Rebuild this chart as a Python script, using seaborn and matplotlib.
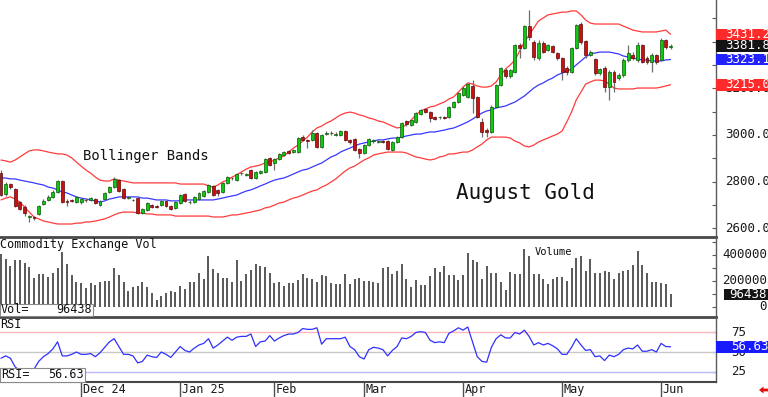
import numpy as np
import pandas as pd
import matplotlib
matplotlib.use("Agg")
import matplotlib.pyplot as plt
from matplotlib.patches import Rectangle, Polygon
import seaborn as sns

# ---- August gold, daily bars ----
holidays = ["2024-11-28", "2024-12-25", "2025-01-01", "2025-01-09",
            "2025-01-20", "2025-02-17", "2025-04-18", "2025-05-26"]
dates = pd.bdate_range("2024-11-06", "2025-06-04")
dates = dates[~dates.isin(pd.to_datetime(holidays))]

month_labels = ["Dec 24", "Jan 25", "Feb", "Mar", "Apr", "May", "Jun"]

opens = [2837, 2747, 2790, 2769, 2713, 2692, 2649, 2649, 2662, 2705,
         2722, 2735, 2756, 2803, 2718, 2722, 2713, 2713, 2722, 2722,
         2726, 2700, 2726, 2756, 2777, 2807, 2769, 2730, 2722, 2730,
         2666, 2679, 2700, 2696, 2700, 2718, 2696, 2688, 2709, 2747,
         2713, 2713, 2726, 2739, 2756, 2782, 2765, 2756, 2795, 2816,
         2807, 2836, 2829, 2850, 2816, 2837, 2842, 2902, 2880, 2897,
         2914, 2932, 2927, 2927, 2991, 2979, 2979, 3009, 2949, 3004,
         3009, 3000, 3000, 3017, 2979, 2983, 2940, 2923, 2957, 2974,
         2970, 2974, 2974, 2936, 2970, 2991, 3060, 3043, 3056, 3090,
         3111, 3098, 3077, 3077, 3077, 3077, 3120, 3141, 3171, 3163,
         3210, 3163, 3056, 3021, 3013, 3120, 3214, 3278, 3252, 3270,
         3385, 3372, 3466, 3398, 3330, 3394, 3364, 3381, 3351, 3330,
         3287, 3270, 3372, 3475, 3402, 3342, 3325, 3265, 3287, 3205,
         3270, 3244, 3257, 3321, 3342, 3321, 3385, 3330, 3312, 3342,
         3321, 3407, 3377]
highs = [2850, 2799, 2795, 2773, 2718, 2700, 2658, 2653, 2700, 2726,
         2743, 2765, 2807, 2807, 2726, 2726, 2739, 2730, 2730, 2735,
         2730, 2722, 2756, 2782, 2820, 2812, 2773, 2739, 2726, 2735,
         2688, 2713, 2705, 2700, 2722, 2722, 2700, 2718, 2747, 2752,
         2722, 2739, 2756, 2765, 2790, 2786, 2769, 2799, 2824, 2820,
         2837, 2842, 2837, 2854, 2846, 2850, 2902, 2906, 2902, 2923,
         2932, 2936, 2940, 2991, 3000, 2983, 3021, 3013, 3004, 3017,
         3017, 3013, 3021, 3021, 2983, 2987, 2944, 2961, 2987, 2983,
         2979, 2979, 2979, 2974, 2996, 3056, 3064, 3068, 3098, 3111,
         3116, 3103, 3081, 3081, 3081, 3124, 3146, 3184, 3210, 3223,
         3235, 3167, 3073, 3030, 3128, 3218, 3291, 3287, 3282, 3389,
         3394, 3471, 3535, 3407, 3407, 3402, 3389, 3385, 3355, 3334,
         3295, 3377, 3475, 3484, 3407, 3364, 3330, 3287, 3295, 3278,
         3278, 3265, 3330, 3385, 3355, 3398, 3389, 3338, 3351, 3347,
         3415, 3411, 3389]
lows = [2739, 2739, 2769, 2692, 2679, 2653, 2628, 2636, 2658, 2700,
        2718, 2730, 2752, 2709, 2696, 2713, 2709, 2705, 2713, 2718,
        2705, 2696, 2722, 2752, 2773, 2756, 2726, 2726, 2718, 2662,
        2662, 2675, 2688, 2688, 2696, 2692, 2679, 2683, 2705, 2713,
        2705, 2709, 2722, 2735, 2752, 2739, 2739, 2752, 2790, 2807,
        2803, 2829, 2824, 2812, 2812, 2833, 2837, 2867, 2850, 2893,
        2910, 2919, 2923, 2923, 2974, 2944, 2974, 2944, 2944, 3000,
        3000, 2996, 2996, 2974, 2961, 2932, 2902, 2919, 2953, 2966,
        2966, 2966, 2936, 2932, 2966, 2987, 3038, 3038, 3051, 3086,
        3094, 3056, 3064, 3068, 3068, 3073, 3116, 3137, 3167, 3158,
        3094, 3073, 2991, 2991, 3009, 3116, 3210, 3244, 3244, 3265,
        3330, 3368, 3407, 3321, 3321, 3351, 3360, 3351, 3321, 3235,
        3257, 3265, 3368, 3389, 3330, 3338, 3257, 3257, 3184, 3150,
        3184, 3235, 3248, 3312, 3321, 3312, 3308, 3304, 3270, 3304,
        3317, 3368, 3368]
closes = [2743, 2790, 2777, 2696, 2683, 2666, 2653, 2645, 2696, 2718,
          2735, 2756, 2803, 2713, 2713, 2718, 2735, 2726, 2720, 2730,
          2709, 2718, 2752, 2777, 2812, 2760, 2730, 2735, 2720, 2666,
          2683, 2709, 2692, 2692, 2718, 2696, 2683, 2713, 2743, 2718,
          2715, 2735, 2752, 2760, 2786, 2743, 2752, 2795, 2820, 2818,
          2833, 2838, 2831, 2816, 2842, 2846, 2897, 2872, 2897, 2919,
          2927, 2923, 2936, 2987, 2979, 2974, 3009, 2949, 3000, 3009,
          3007, 3004, 3017, 2979, 2970, 2936, 2923, 2957, 2983, 2979,
          2974, 2972, 2940, 2970, 2991, 3051, 3047, 3064, 3094, 3107,
          3098, 3073, 3068, 3079, 3073, 3120, 3141, 3180, 3201, 3218,
          3158, 3077, 3013, 3013, 3120, 3214, 3287, 3252, 3278, 3385,
          3372, 3466, 3419, 3334, 3394, 3355, 3385, 3355, 3330, 3270,
          3270, 3372, 3471, 3398, 3342, 3355, 3265, 3282, 3205, 3270,
          3227, 3257, 3321, 3351, 3330, 3385, 3312, 3312, 3342, 3312,
          3407, 3377, 3381.8]

bb_upper = [2893, 2889, 2884, 2893, 2906, 2919, 2932, 2936, 2936, 2932,
            2927, 2923, 2919, 2919, 2914, 2902, 2884, 2867, 2850, 2837,
            2820, 2807, 2803, 2803, 2812, 2807, 2803, 2799, 2795, 2795,
            2795, 2795, 2795, 2795, 2795, 2795, 2795, 2795, 2790, 2790,
            2790, 2790, 2790, 2790, 2782, 2777, 2786, 2799, 2807, 2820,
            2829, 2842, 2854, 2863, 2867, 2872, 2880, 2884, 2893, 2902,
            2910, 2927, 2944, 2957, 2974, 2991, 3013, 3030, 3038, 3051,
            3060, 3073, 3086, 3094, 3098, 3094, 3086, 3081, 3073, 3068,
            3060, 3056, 3047, 3038, 3030, 3034, 3043, 3064, 3086, 3103,
            3111, 3120, 3124, 3133, 3141, 3154, 3163, 3184, 3205, 3223,
            3218, 3210, 3205, 3205, 3210, 3227, 3257, 3282, 3300, 3321,
            3360, 3398, 3428, 3458, 3488, 3501, 3514, 3518, 3522, 3526,
            3526, 3531, 3531, 3514, 3492, 3479, 3475, 3475, 3475, 3475,
            3475, 3475, 3466, 3458, 3449, 3445, 3441, 3441, 3441, 3441,
            3445, 3449, 3431.2]
bb_mid = [2816, 2816, 2812, 2812, 2807, 2803, 2799, 2795, 2790, 2786,
          2777, 2773, 2765, 2756, 2752, 2743, 2735, 2730, 2726, 2722,
          2718, 2713, 2718, 2726, 2730, 2735, 2735, 2735, 2735, 2735,
          2730, 2730, 2726, 2722, 2722, 2722, 2718, 2718, 2718, 2722,
          2722, 2722, 2722, 2722, 2722, 2722, 2726, 2730, 2735, 2739,
          2743, 2752, 2760, 2765, 2773, 2782, 2790, 2799, 2807, 2812,
          2816, 2824, 2833, 2842, 2850, 2854, 2863, 2872, 2880, 2893,
          2906, 2914, 2927, 2936, 2944, 2953, 2961, 2966, 2970, 2974,
          2979, 2979, 2983, 2987, 2987, 2991, 2996, 3000, 3004, 3004,
          3009, 3013, 3013, 3017, 3021, 3026, 3030, 3038, 3047, 3056,
          3068, 3081, 3094, 3103, 3107, 3116, 3120, 3124, 3133, 3141,
          3154, 3167, 3184, 3201, 3214, 3223, 3235, 3244, 3257, 3265,
          3274, 3282, 3300, 3317, 3334, 3347, 3351, 3355, 3355, 3355,
          3351, 3347, 3338, 3334, 3330, 3325, 3321, 3321, 3317, 3317,
          3317, 3321, 3323.1]
bb_lower = [2722, 2730, 2735, 2726, 2713, 2692, 2670, 2649, 2641, 2632,
            2628, 2623, 2619, 2619, 2619, 2619, 2623, 2623, 2628, 2628,
            2632, 2636, 2641, 2649, 2658, 2666, 2670, 2670, 2670, 2666,
            2666, 2662, 2662, 2658, 2658, 2658, 2658, 2653, 2653, 2653,
            2653, 2653, 2653, 2653, 2653, 2649, 2649, 2649, 2653, 2658,
            2658, 2662, 2666, 2670, 2675, 2679, 2688, 2692, 2700, 2709,
            2713, 2722, 2730, 2735, 2743, 2752, 2760, 2765, 2777, 2786,
            2799, 2812, 2829, 2846, 2859, 2867, 2880, 2893, 2902, 2914,
            2919, 2923, 2927, 2927, 2927, 2927, 2923, 2914, 2906, 2902,
            2897, 2893, 2897, 2906, 2910, 2919, 2919, 2923, 2927, 2927,
            2936, 2949, 2961, 2979, 2991, 2991, 2991, 2991, 2987, 2974,
            2966, 2953, 2949, 2957, 2970, 2979, 2987, 2996, 3004, 3017,
            3056, 3098, 3150, 3184, 3218, 3227, 3235, 3235, 3231, 3218,
            3201, 3197, 3197, 3197, 3197, 3201, 3201, 3201, 3201, 3201,
            3205, 3210, 3215.0]

volume = [408000, 367000, 315000, 362000, 362000, 336000, 305000, 220000, 251000, 254000,
          233000, 259000, 297000, 426000, 331000, 246000, 195000, 182000, 149000, 187000,
          169000, 190000, 200000, 200000, 297000, 246000, 190000, 126000, 156000, 162000,
          195000, 156000, 105000, 54000, 85000, 105000, 123000, 113000, 164000, 141000,
          190000, 190000, 259000, 213000, 392000, 290000, 259000, 226000, 220000, 195000,
          362000, 203000, 254000, 285000, 331000, 315000, 305000, 259000, 182000, 190000,
          162000, 182000, 182000, 208000, 251000, 220000, 213000, 190000, 246000, 238000,
          182000, 174000, 174000, 254000, 174000, 215000, 220000, 200000, 200000, 195000,
          182000, 297000, 305000, 251000, 277000, 331000, 215000, 156000, 208000, 169000,
          169000, 238000, 297000, 267000, 318000, 246000, 246000, 208000, 246000, 413000,
          362000, 344000, 215000, 318000, 259000, 264000, 195000, 131000, 272000, 254000,
          254000, 444000, 392000, 251000, 251000, 213000, 174000, 213000, 228000, 228000,
          200000, 297000, 379000, 395000, 277000, 369000, 264000, 264000, 279000, 272000,
          213000, 259000, 279000, 285000, 323000, 433000, 323000, 259000, 190000, 190000,
          182000, 176000, 96438]

rsi = [42, 45, 42, 31, 26, 22, 20, 28, 38, 44,
       48, 54, 63, 45, 45, 47, 50, 47, 47, 48,
       44, 49, 56, 63, 67, 57, 47, 47, 45, 36,
       38, 46, 44, 43, 50, 47, 43, 50, 57, 52,
       50, 55, 59, 61, 67, 55, 59, 64, 69, 65,
       69, 70, 70, 73, 57, 63, 64, 71, 64, 68,
       71, 73, 73, 75, 80, 79, 79, 81, 60, 67,
       67, 67, 67, 69, 57, 53, 44, 41, 53, 56,
       55, 53, 45, 52, 57, 68, 67, 70, 75, 76,
       75, 65, 62, 63, 62, 74, 77, 81, 78, 82,
       63, 44, 38, 37, 56, 67, 72, 68, 68, 75,
       73, 78, 70, 59, 62, 59, 61, 58, 54, 47,
       47, 56, 67, 59, 52, 53, 44, 45, 39, 46,
       44, 47, 53, 55, 54, 59, 51, 51, 53, 50,
       61, 57, 56.63]

for arr in (opens, highs, lows, closes, bb_upper, bb_mid, bb_lower, volume, rsi):
    assert len(arr) == len(dates)

# ---- style ----
sns.set_theme(style="white")
plt.rcParams['font.family'] = ['DejaVu Sans Mono', 'DejaVu Sans']

W, H = 768, 397
fig = plt.figure(figsize=(W / 100, H / 100), dpi=100)
fig.patch.set_facecolor("white")


def fx(px):
    return px / W


def fy_px(py):
    return 1 - py / H


# panels laid out in pixels: price 0-237, volume 237-317, rsi 317-382
right = 716
ax_p = fig.add_axes([0, fy_px(237), fx(right), 237 / H])
ax_v = fig.add_axes([0, fy_px(317), fx(right), 80 / H])
ax_r = fig.add_axes([0, fy_px(382), fx(right), 65 / H])
ax_x = fig.add_axes([0, 0, fx(right), 15 / H])

x = np.arange(len(dates))
xlim = (-0.21, 151.64)
for ax in (ax_p, ax_v, ax_r, ax_x):
    ax.set_xlim(*xlim)
    ax.set_facecolor("none")
    ax.set_xticks([])
    for s in ("top", "left"):
        ax.spines[s].set_visible(False)
    ax.spines["right"].set_color("#5a5a5a")
    ax.spines["right"].set_linewidth(1.0)
    ax.spines["bottom"].set_color("#484848")
    ax.spines["bottom"].set_linewidth(2.0)
    ax.yaxis.tick_right()
    ax.tick_params(axis="y", direction="in", length=3, width=0.8, color="#5a5a5a",
                   labelright=False, labelleft=False)

ax_p.set_ylim(2563.4, 3577.8)
ax_v.set_ylim(-77000, 538000)
ax_r.set_ylim(11.6, 94.8)
ax_r.spines["bottom"].set_linewidth(1.5)
ax_x.axis("off")

ax_p.set_yticks(np.arange(2600, 3501, 100))
ax_v.set_yticks(np.arange(0, 500001, 100000))
ax_r.set_yticks([25, 50, 75])

# ---- price panel: bollinger bands + candles ----
sns.lineplot(x=x, y=bb_upper, ax=ax_p, color="#ff3b3b", linewidth=0.9, zorder=2)
sns.lineplot(x=x, y=bb_lower, ax=ax_p, color="#ff3b3b", linewidth=0.9, zorder=2)
sns.lineplot(x=x, y=bb_mid, ax=ax_p, color="#3838ff", linewidth=0.9, zorder=2)

o, h, l, c = (np.asarray(a, dtype=float) for a in (opens, highs, lows, closes))
up = c >= o
ax_p.vlines(x, l, h, color="#6e6e6e", linewidth=0.9, zorder=3)
ax_p.bar(x[up], c[up] - o[up], bottom=o[up], width=0.62, color="#10c810",
         edgecolor="#0a5a0a", linewidth=0.5, zorder=4)
ax_p.bar(x[~up], o[~up] - c[~up], bottom=c[~up], width=0.62, color="#cc1010",
         edgecolor="#5a0a0a", linewidth=0.5, zorder=4)
ax_p.set_xlabel("")
ax_p.set_ylabel("")

# ---- volume panel ----
ax_v.vlines(x, 0, volume, color="#3c3c3c", linewidth=1.2)
ax_v.set_xlabel("")
ax_v.set_ylabel("")

# ---- rsi panel ----
ax_r.axhline(75, color="#ffb8b8", linewidth=1.0, zorder=1)
ax_r.axhline(50, color="#c8c8c8", linewidth=1.0, zorder=1)
ax_r.axhline(25, color="#b8b8ff", linewidth=1.0, zorder=1)
sns.lineplot(x=x, y=rsi, ax=ax_r, color="#3030ff", linewidth=0.9, zorder=2)
ax_r.set_xlabel("")
ax_r.set_ylabel("")

# ---- month ticks below ----
first_of_month = [i for i in range(1, len(dates)) if dates[i].month != dates[i - 1].month]
for i, lab in zip(first_of_month, month_labels):
    ax_x.axvline(i, color="#505050", linewidth=1.0)
    ax_x.text(i + 0.3, 0.5, lab, fontsize=8.5, color="#1a1a1a", va="center", ha="left")


def y_in(ax, val):
    pos = ax.get_position()
    y0, y1 = ax.get_ylim()
    return pos.y0 + (val - y0) / (y1 - y0) * pos.height


def value_box(ax, val, text, face, x_text=725, x0=right, h_px=11.5, ha="left"):
    yc = y_in(ax, val)
    fig.add_artist(Rectangle((fx(x0), yc - h_px / 2 / H), fx(W - x0), h_px / H,
                             transform=fig.transFigure, facecolor=face,
                             edgecolor="none", zorder=5))
    fig.text(fx(x_text), yc, text, color="white", fontsize=9, va="center",
             ha=ha, zorder=6)


# right-hand scale labels
for v in (2600, 2800, 3000, 3200, 3400):
    fig.text(fx(725), y_in(ax_p, v), f"{v:.1f}", fontsize=9, color="#1a1a1a",
             va="center", ha="left", zorder=2)
for v in (0, 200000, 400000):
    fig.text(fx(767), y_in(ax_v, v), f"{v}", fontsize=9, color="#1a1a1a",
             va="center", ha="right", zorder=2)
for v in (25, 50, 75):
    fig.text(fx(731), y_in(ax_r, v), f"{v}", fontsize=9, color="#1a1a1a",
             va="center", ha="left", zorder=2)

value_box(ax_p, bb_upper[-1], f"{bb_upper[-1]:.1f}", "#ff2a2a")
value_box(ax_p, closes[-1], f"{closes[-1]:.1f}", "#141414")
value_box(ax_p, bb_mid[-1], f"{bb_mid[-1]:.1f}", "#2222ff")
value_box(ax_p, bb_lower[-1], f"{bb_lower[-1]:.1f}", "#ff2a2a")
value_box(ax_v, volume[-1], f"{volume[-1]}", "#141414", x_text=767, x0=724, ha="right")
value_box(ax_r, rsi[-1], f"{rsi[-1]:.2f}", "#1a1aff", x_text=731)

# ---- annotations ----
fig.text(fx(83), fy_px(156), "Bollinger Bands", fontsize=10, color="#111111", va="center")
fig.text(fx(456), fy_px(193), "August Gold", fontsize=15, color="#111111", va="center")
fig.text(fx(0), fy_px(244.5), "Commodity Exchange Vol", fontsize=8.5, color="#111111", va="center")
fig.text(fx(535), fy_px(252), "Volume", fontsize=7.5, color="#111111", va="center")
fig.text(fx(0), fy_px(325), "RSI", fontsize=8.5, color="#111111", va="center")

# read-out boxes at the left
for (x0, x1, y0, y1, lab, val) in ((0, 93, 303.5, 316, "Vol=", f"{volume[-1]}"),
                                   (0, 85, 368, 381.5, "RSI=", f"{rsi[-1]:.2f}")):
    fig.add_artist(Rectangle((fx(x0), fy_px(y1)), fx(x1 - x0), (y1 - y0) / H,
                             transform=fig.transFigure, facecolor="white",
                             edgecolor="#8a8a8a", linewidth=0.8, zorder=5))
    fig.text(fx(x0 + 1), fy_px((y0 + y1) / 2), lab, fontsize=8.5, color="#111111",
             va="center", ha="left", zorder=6)
    fig.text(fx(x1 - 1), fy_px((y0 + y1) / 2), val, fontsize=8.5, color="#111111",
             va="center", ha="right", zorder=6)

# little red arrow, bottom right
arrow_px = [(759, 390), (763.5, 386.5), (763.5, 388.6), (768, 388.6),
            (768, 391.4), (763.5, 391.4), (763.5, 393.5)]
fig.add_artist(Polygon([(fx(a), fy_px(b)) for a, b in arrow_px], closed=True,
                       transform=fig.transFigure, facecolor="#e01010",
                       edgecolor="none", zorder=6))

fig.savefig("out.png", dpi=100)
